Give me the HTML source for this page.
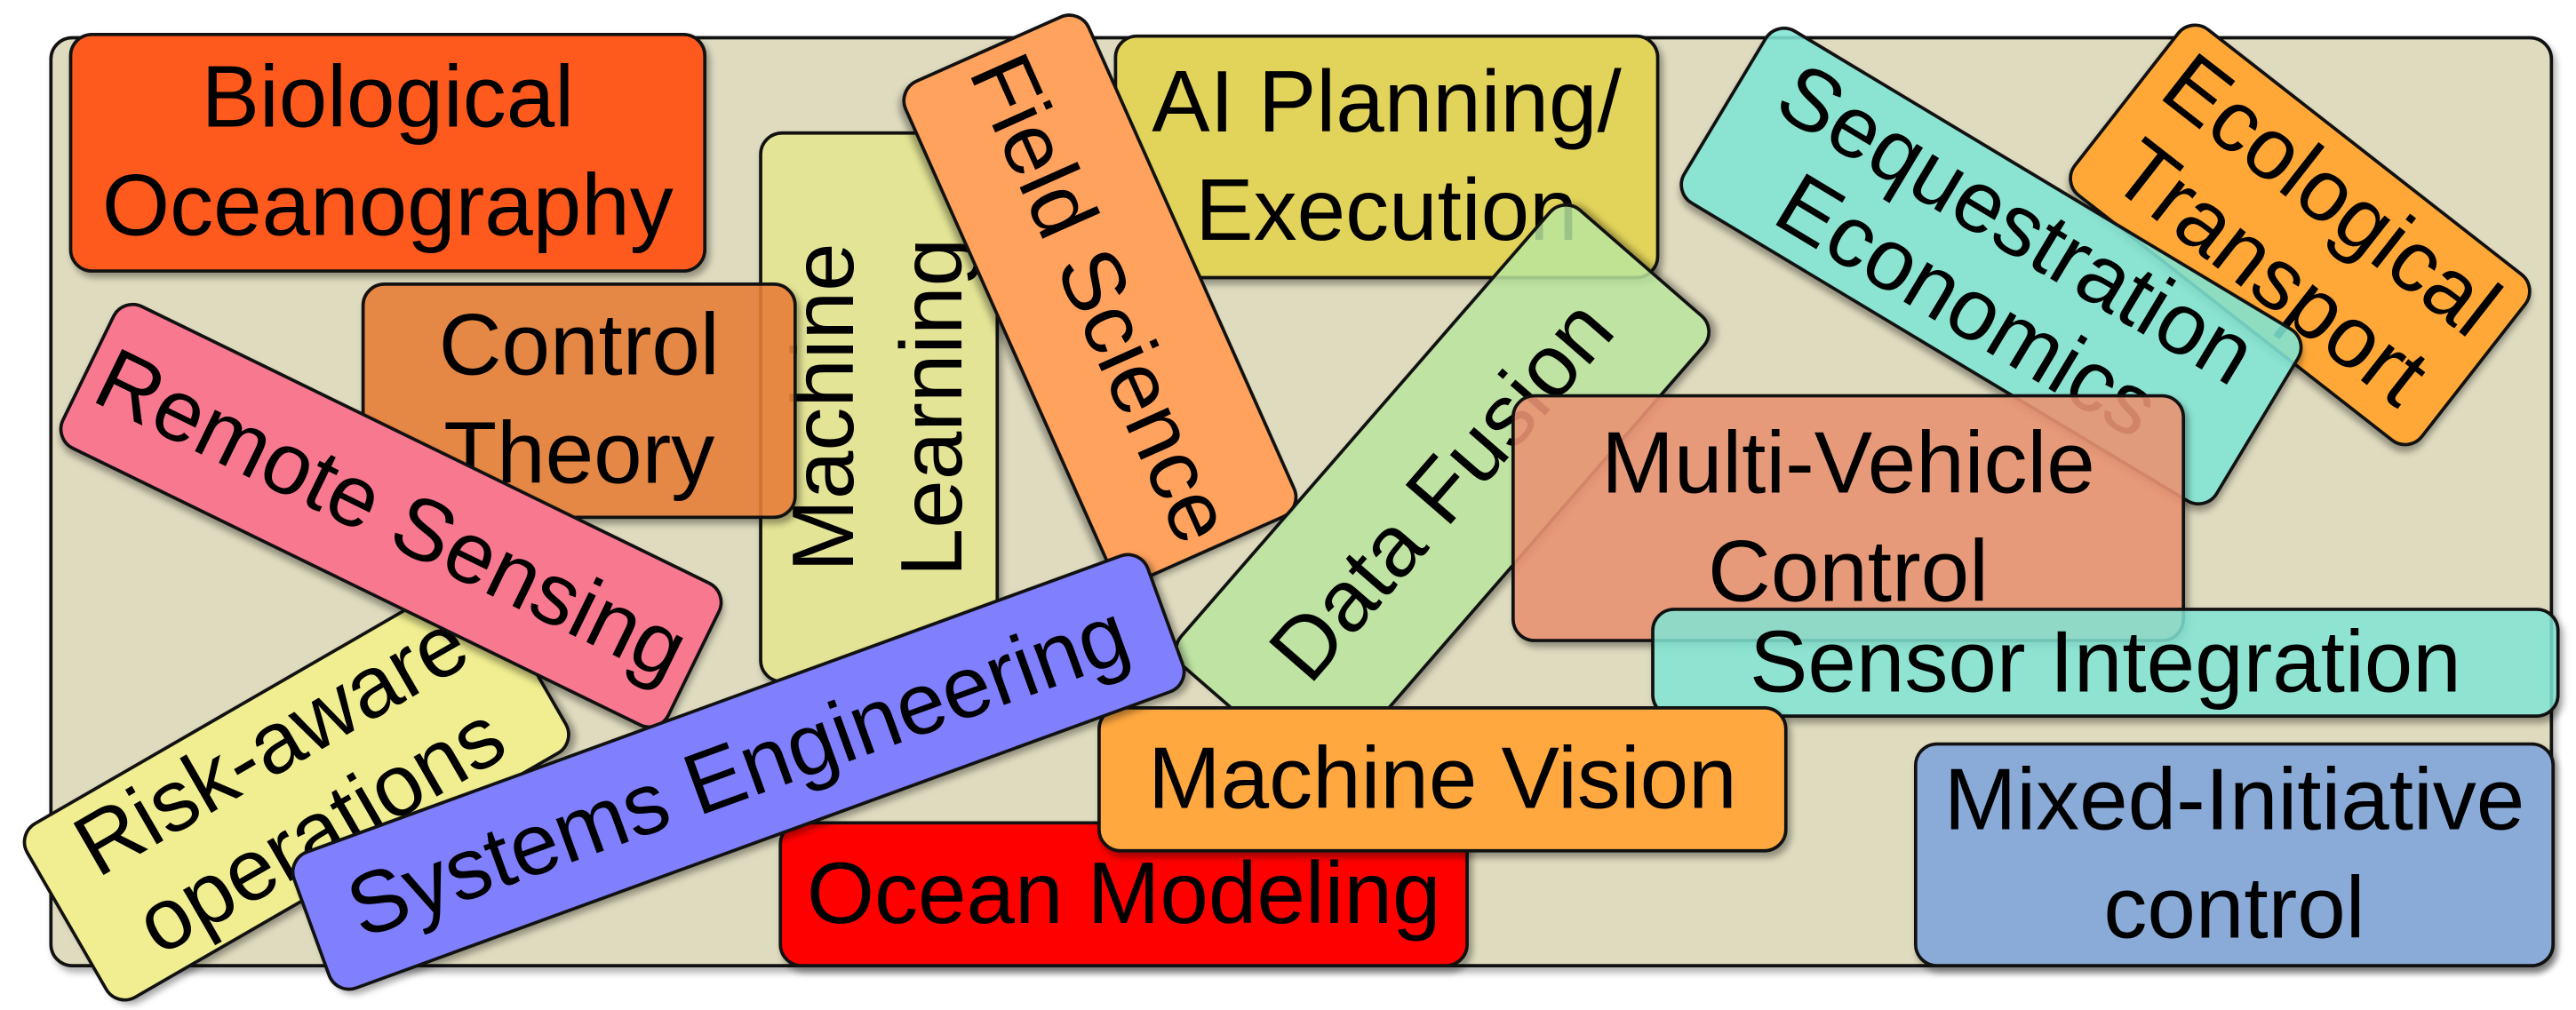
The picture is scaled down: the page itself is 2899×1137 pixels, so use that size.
<!DOCTYPE html>
<html><head><meta charset="utf-8"><style>
html,body{margin:0;padding:0;background:#fff;width:2899px;height:1129px;overflow:hidden}
#s{position:absolute;left:0;top:0;width:1568px;height:611px;transform:scale(1.8489);transform-origin:0 0}
.b{position:absolute;box-sizing:border-box;border:2px solid #111;border-radius:14px;display:flex;align-items:center;justify-content:center;text-align:center;font-family:"Liberation Sans",sans-serif;font-size:53px;line-height:66px;color:#000;box-shadow:2px 3px 4px rgba(0,0,0,.35);white-space:nowrap}
.r{transform-origin:center center}
</style></head><body><div id="s">
<div class="b" style="left:30px;top:22px;width:1524px;height:567px;background:#dfdbbf;box-shadow:2px 3px 4px rgba(0,0,0,.3)"></div>
<div class="b" style="left:42px;top:20px;width:388px;height:146px;background:#ff5a1e">Biological<br>Oceanography</div>
<div class="b" style="left:462px;top:80px;width:146px;height:336px;background:#e4e496"><div style="transform:rotate(-90deg)">Machine<br>Learning</div></div>
<div class="b" style="left:220px;top:172px;width:265px;height:144px;background:rgba(229,125,55,.9)">Control<br>Theory</div>
<div class="b" style="left:678px;top:21px;width:332px;height:149px;background:#e2d35a">AI Planning/<br>Execution</div>
<div class="b r" style="left:502px;top:120px;width:335px;height:124px;background:#ffa25e;transform:rotate(66deg)">Field Science</div>
<div class="b r" style="left:693px;top:236px;width:370px;height:126px;background:rgba(186,228,158,.85);transform:rotate(-49deg)">Data Fusion</div>
<div class="b r" style="left:1265px;top:78px;width:270px;height:130px;background:#ffa838;line-height:60px;transform:rotate(38deg)">Ecological<br>Transport</div>
<div class="b r" style="left:1022px;top:100px;width:380px;height:124px;background:rgba(128,228,212,.88);line-height:58px;transform:rotate(31deg)">Sequestration<br>Economics</div>
<div class="b" style="left:920px;top:240px;width:410px;height:151px;background:rgba(232,146,114,.9)">Multi-Vehicle<br>Control</div>
<div class="b" style="left:1005px;top:370px;width:553px;height:67px;background:rgba(128,228,212,.85)">Sensor Integration</div>
<div class="b r" style="left:18px;top:418px;width:325px;height:124px;background:#f0ee90;line-height:60px;transform:rotate(-30deg)">Risk-aware<br>operations</div>
<div class="b r" style="left:32px;top:265px;width:412px;height:98px;background:#f87890;transform:rotate(26deg)">Remote Sensing</div>
<div class="b" style="left:474px;top:500px;width:420px;height:89px;background:#ff0000">Ocean Modeling</div>
<div class="b" style="left:668px;top:430px;width:420px;height:89px;background:#ffa840">Machine Vision</div>
<div class="b r" style="left:172px;top:425px;width:555px;height:90px;background:#8080ff;transform:rotate(-20deg)">Systems Engineering</div>
<div class="b" style="left:1165px;top:452px;width:390px;height:137px;background:#8aaad8">Mixed-Initiative<br>control</div>
</div></body></html>
